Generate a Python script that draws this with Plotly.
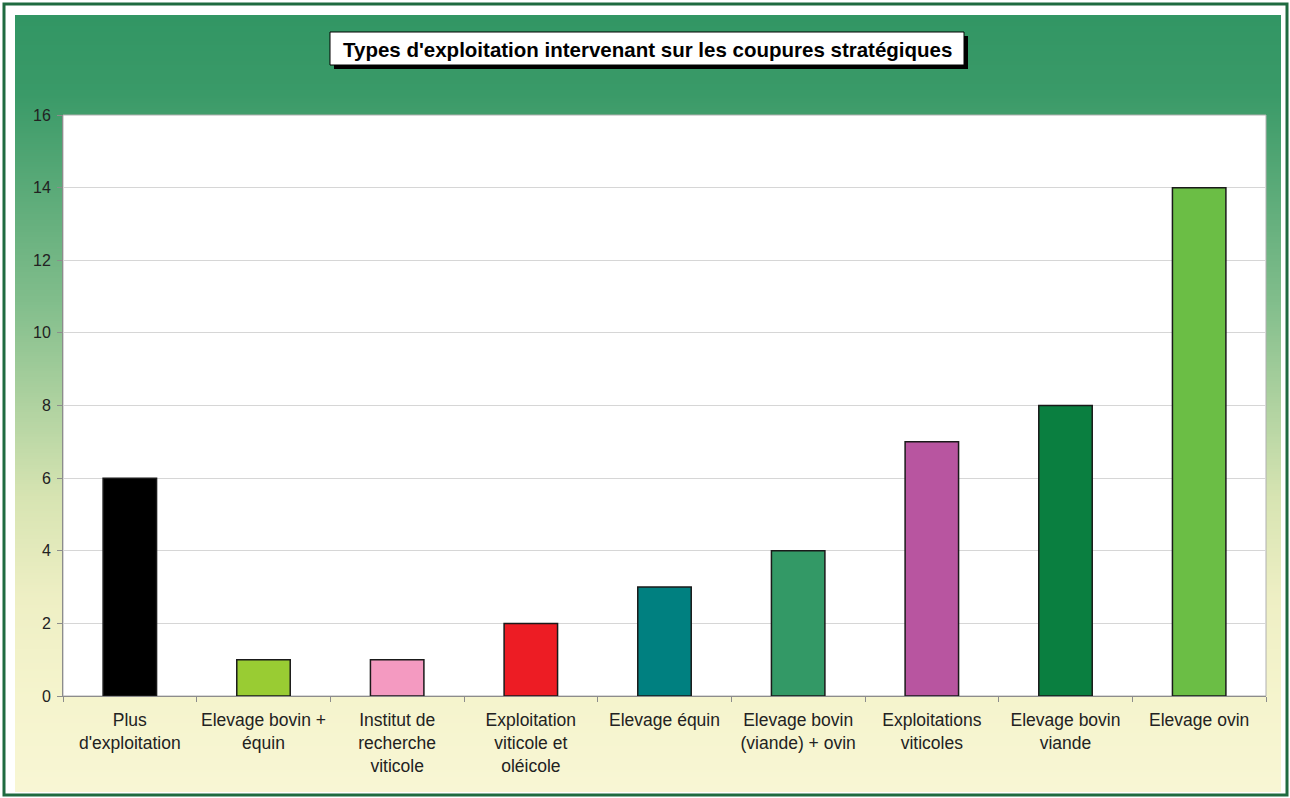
import plotly.graph_objects as go
import zlib, struct, base64

categories = [
    "Plus<br>d'exploitation",
    "Elevage bovin +<br>équin",
    "Institut de<br>recherche<br>viticole",
    "Exploitation<br>viticole et<br>oléicole",
    "Elevage équin",
    "Elevage bovin<br>(viande) + ovin",
    "Exploitations<br>viticoles",
    "Elevage bovin<br>viande",
    "Elevage ovin",
]
values = [6, 1, 1, 2, 3, 4, 7, 8, 14]
bar_colors = ["#000000", "#99CC33", "#F49AC1", "#ED1C24", "#008080",
              "#339966", "#B855A0", "#0A7F40", "#6BBE45"]
y_ticks = [0, 2, 4, 6, 8, 10, 12, 14, 16]
title_text = "Types d'exploitation intervenant sur les coupures stratégiques"

W, H = 1290, 798
L, R, T, B = 63, 24, 115, 102


def px(x):
    return (x - L) / (W - L - R)


def py(y):
    return (H - B - y) / (H - T - B)


# vertical gradient image (green -> pale yellow)
stops = [(0.0, (50, 150, 100)), (0.10, (58, 154, 104)), (0.37, (130, 190, 140)),
         (0.50, (175, 210, 160)), (0.62, (215, 228, 178)), (0.75, (238, 239, 196)),
         (0.88, (245, 244, 205)), (1.0, (248, 246, 212))]


def color_at(t):
    for (t0, c0), (t1, c1) in zip(stops[:-1], stops[1:]):
        if t0 <= t <= t1:
            f = (t - t0) / (t1 - t0) if t1 > t0 else 0
            return tuple(int(round(a + (b - a) * f)) for a, b in zip(c0, c1))
    return stops[-1][1]


def make_png(h=400, w=2):
    raw = b""
    for i in range(h):
        c = color_at(i / (h - 1))
        raw += b"\x00" + bytes(c) * w
    def chunk(tag, data):
        return struct.pack(">I", len(data)) + tag + data + struct.pack(">I", zlib.crc32(tag + data) & 0xffffffff)
    png = b"\x89PNG\r\n\x1a\n"
    png += chunk(b"IHDR", struct.pack(">IIBBBBB", w, h, 8, 2, 0, 0, 0))
    png += chunk(b"IDAT", zlib.compress(raw, 9))
    png += chunk(b"IEND", b"")
    return "data:image/png;base64," + base64.b64encode(png).decode()


fig = go.Figure()
fig.add_trace(go.Bar(
    x=categories, y=values, width=0.4,
    marker=dict(color=bar_colors, line=dict(color="#1a1a1a", width=1.5)),
    hoverinfo="x+y",
))

panel_x0, panel_x1, panel_y0, panel_y1 = 15, 1281, 15, 792

fig.add_layout_image(dict(
    source=make_png(), xref="paper", yref="paper",
    x=px(panel_x0), y=py(panel_y0),
    sizex=px(panel_x1) - px(panel_x0), sizey=py(panel_y0) - py(panel_y1),
    xanchor="left", yanchor="top", sizing="stretch", layer="below",
))

shapes = [
    # plot area white background
    dict(type="rect", xref="paper", yref="paper", layer="below",
         x0=0, x1=1, y0=0, y1=1, fillcolor="white",
         line=dict(color="#b0b0b0", width=1)),
    # outer frame
    dict(type="rect", xref="paper", yref="paper", layer="above",
         x0=px(4), x1=px(1287), y0=py(4), y1=py(795),
         fillcolor="rgba(0,0,0,0)", line=dict(color="#1f6b40", width=3)),
    # title shadow
    dict(type="rect", xref="paper", yref="paper", layer="above",
         x0=px(334), x1=px(968), y0=py(36), y1=py(69),
         fillcolor="black", line=dict(width=0)),
    # title box
    dict(type="rect", xref="paper", yref="paper", layer="above",
         x0=px(330), x1=px(964), y0=py(32), y1=py(65),
         fillcolor="white", line=dict(color="black", width=1)),
]

fig.update_layout(
    width=W, height=H,
    margin=dict(l=L, r=R, t=T, b=B, pad=0, autoexpand=False),
    paper_bgcolor="white", plot_bgcolor="white",
    showlegend=False,
    shapes=shapes,
    font=dict(family="Liberation Sans, Arial, sans-serif", color="#222222"),
    annotations=[dict(
        text="<b>" + title_text + "</b>", xref="paper", yref="paper",
        x=px(647), y=py(49.5), xanchor="center", yanchor="middle",
        showarrow=False, font=dict(size=20.5, color="black",
                                   family="Liberation Sans, Arial, sans-serif"),
    )],
    bargap=0.6,
    xaxis=dict(
        showline=True, linecolor="#8c8c8c", linewidth=1,
        ticks="outside", tickson="boundaries", ticklen=5, tickcolor="#8c8c8c",
        tickfont=dict(size=17.5, color="#222222"), ticklabelstandoff=8,
        tickangle=0, automargin=False,
        showgrid=False, fixedrange=True,
    ),
    yaxis=dict(
        range=[0, 16], tickvals=y_ticks, showline=True, linecolor="#8c8c8c",
        linewidth=1, ticks="outside", ticklen=5, tickcolor="#8c8c8c",
        gridcolor="#d6d6d6", gridwidth=1, zeroline=False, automargin=False,
        tickfont=dict(size=16, color="#222222"), ticklabelstandoff=3,
        fixedrange=True,
    ),
)

fig.write_html("out.html")
